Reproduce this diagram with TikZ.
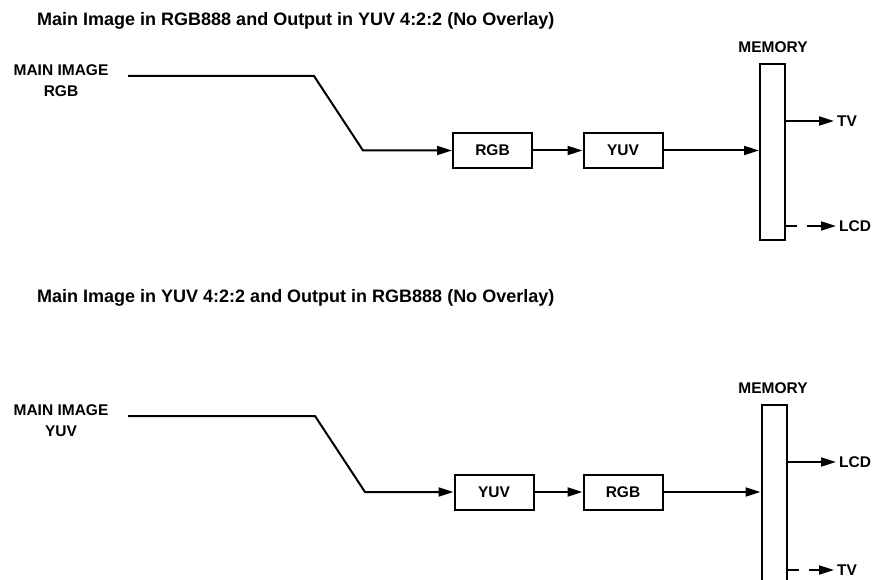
\documentclass[tikz,border=0pt]{standalone}
\usepackage{fontspec}
\setmainfont{Liberation Sans}
\usetikzlibrary{arrows.meta}
\tikzset{
  wire/.style={line width=2pt},
  flow/.style={wire,-{Triangle[length=15pt,width=9pt]}},
  dflow/.style={flow,dash pattern=on 11pt off 10pt on 60pt off 0pt},
  fmtbox/.style={draw,line width=2pt,minimum width=79pt,minimum height=35pt,
    inner sep=0pt,font=\fontsize{15.5}{18}\selectfont\bfseries},
  membox/.style={draw,line width=2pt,minimum width=25pt,inner sep=0pt},
  lbl/.style={font=\fontsize{15.5}{21}\selectfont\bfseries,align=center,inner sep=0pt},
  outlbl/.style={lbl,anchor=west,inner sep=3pt},
  ttl/.style={font=\fontsize{18}{20}\selectfont\bfseries,anchor=base west,inner sep=0pt}
}
\begin{document}
\begin{tikzpicture}[x=1pt,y=-1pt]
  \useasboundingbox (0,0) rectangle (876,580);
  % upper chain: RGB in, YUV out
  \node[ttl] (titleA) at (37,26) {Main Image in RGB888 and Output in YUV 4:2:2 (No Overlay)};
  \node[lbl] (srcA) at (61,81) {MAIN IMAGE\\RGB};
  \coordinate (a0) at (128,76);
  \coordinate (a1) at (314,76);
  \coordinate (a2) at (363,150.5);
  \node[fmtbox] (rgbA) at (492.5,150.5) {RGB};
  \node[fmtbox] (yuvA) at (623,150.5) {YUV};
  \node[membox,minimum height=176pt] (memA) at (772.5,152) {};
  \node[lbl,anchor=base] (memlA) at (773,52.5) {MEMORY};
  \node[outlbl] (tvA) at (834,121) {TV};
  \node[outlbl] (lcdA) at (836,226) {LCD};
  \draw[flow] (a0) -- (a1) -- (a2) -- (rgbA.west);
  \draw[flow] (rgbA) -- (yuvA);
  \draw[flow] (yuvA.east) -- (yuvA.east -| memA.west);
  \draw[flow] (memA.east |- tvA) -- (tvA.west);
  \draw[dflow] (memA.east |- lcdA) -- (lcdA.west);

  % lower chain: YUV in, RGB out
  \node[ttl] (titleB) at (37,302.5) {Main Image in YUV 4:2:2 and Output in RGB888 (No Overlay)};
  \node[lbl] (srcB) at (61,421) {MAIN IMAGE\\YUV};
  \coordinate (b0) at (128,416);
  \coordinate (b1) at (315,416);
  \coordinate (b2) at (365,492);
  \node[fmtbox] (yuvB) at (494,492) {YUV};
  \node[fmtbox] (rgbB) at (623,492) {RGB};
  \node[membox,minimum height=185pt] (memB) at (774,497.5) {};
  \node[lbl,anchor=base] (memlB) at (773,393.5) {MEMORY};
  \node[outlbl] (lcdB) at (836,462) {LCD};
  \node[outlbl] (tvB) at (834,570) {TV};
  \draw[flow] (b0) -- (b1) -- (b2) -- (yuvB.west);
  \draw[flow] (yuvB) -- (rgbB);
  \draw[flow] (rgbB.east) -- (rgbB.east -| memB.west);
  \draw[flow] (memB.east |- lcdB) -- (lcdB.west);
  \draw[dflow] (memB.east |- tvB) -- (tvB.west);
\end{tikzpicture}
\end{document}
